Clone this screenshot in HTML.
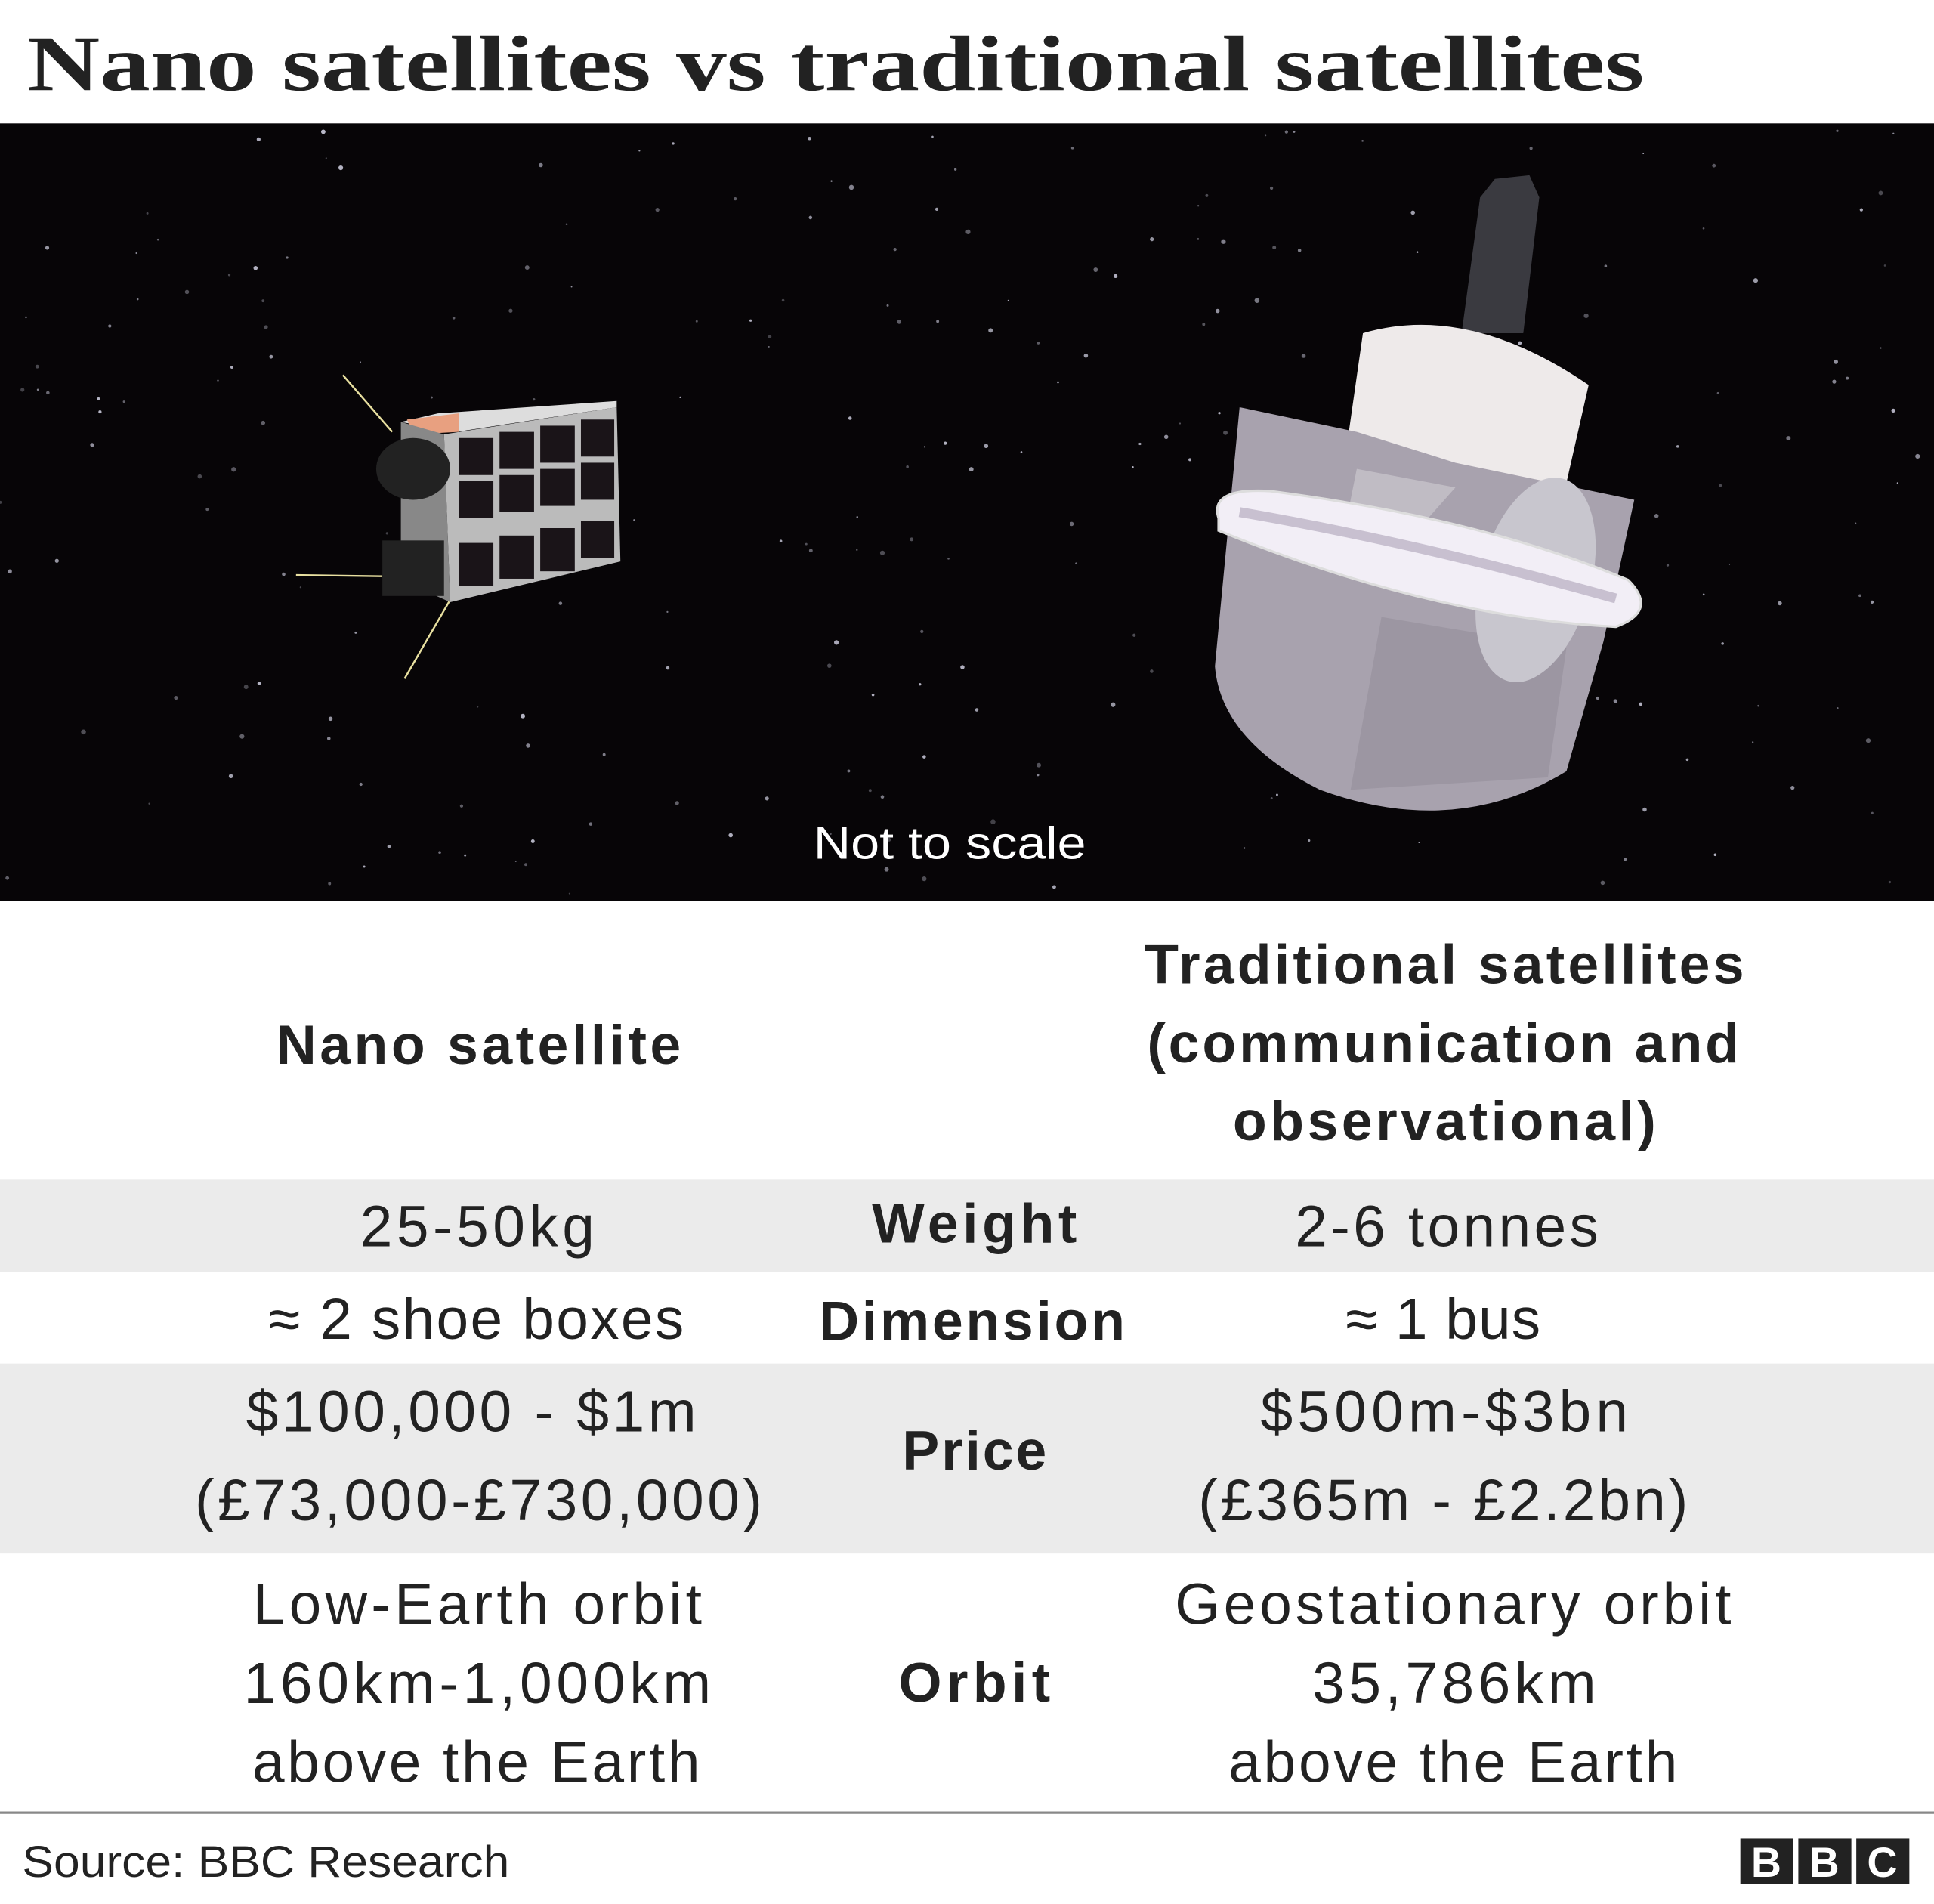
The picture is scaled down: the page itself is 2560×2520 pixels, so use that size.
<!DOCTYPE html>
<html><head><meta charset="utf-8"><style>
html,body{margin:0;padding:0;background:#fff;}
svg{display:block;}
</style></head><body>
<svg width="2560" height="2520" viewBox="0 0 1568 1543" preserveAspectRatio="none" xmlns="http://www.w3.org/2000/svg">
<rect width="1568" height="1543" fill="#fff"/>
<text x="22" y="73" font-family="Liberation Serif, serif" font-weight="bold" font-size="64" fill="#222" textLength="1311" lengthAdjust="spacingAndGlyphs">Nano satellites vs traditional satellites</text>
<g>
<rect x="0" y="100" width="1568" height="630" fill="#070507"/>
<g id="stars" fill="#ccd"></g>
<g>
<line x1="278" y1="304" x2="318" y2="350" stroke="#e8e0a0" stroke-width="1.5"/>
<line x1="240" y1="466" x2="310" y2="467" stroke="#e8e0a0" stroke-width="1.5"/>
<line x1="328" y1="550" x2="365" y2="486" stroke="#e8e0a0" stroke-width="1.5"/>
<polygon points="325,342 355,335 500,325 500,330 370,350" fill="#ddd"/>
<polygon points="330,340 372,335 372,350 335,352" fill="#e8a080"/>
<polygon points="360,352 500,330 503,455 365,488" fill="#bbb"/>
<g fill="#1a1418">
<rect x="372" y="355" width="28" height="30"/><rect x="405" y="350" width="28" height="30"/><rect x="438" y="345" width="28" height="30"/><rect x="471" y="340" width="27" height="30"/>
<rect x="372" y="390" width="28" height="30"/><rect x="405" y="385" width="28" height="30"/><rect x="438" y="380" width="28" height="30"/><rect x="471" y="375" width="27" height="30"/>
<rect x="372" y="440" width="28" height="35"/><rect x="405" y="434" width="28" height="35"/><rect x="438" y="428" width="28" height="35"/><rect x="471" y="422" width="27" height="30"/>
</g>
<polygon points="325,342 360,352 365,488 325,470" fill="#888"/>
<ellipse cx="335" cy="380" rx="30" ry="25" fill="#222"/>
<rect x="310" y="438" width="50" height="45" fill="#222"/>
</g>
<g>
<polygon points="1212,145 1240,142 1248,160 1235,270 1185,270 1200,160" fill="#3a3a40"/>
<path d="M1105,270 Q1190,245 1288,312 L1268,400 L1090,375 Z" fill="#eeeaea"/>
<path d="M1005,330 L1100,350 L1180,375 L1325,405 L1300,520 L1270,625 Q1180,680 1070,640 Q990,600 985,540 Z" fill="#a8a2ae"/>
<polygon points="1100,380 1180,395 1140,440 1090,430" fill="#c0bcc4"/>
<polygon points="1120,500 1270,525 1255,630 1095,640" fill="#9c96a2"/>
<ellipse cx="1245" cy="470" rx="45" ry="85" fill="#c8c6ce" transform="rotate(15 1245 470)"/>
<path d="M988,420 Q980,395 1030,398 Q1200,420 1320,470 Q1345,495 1310,508 Q1160,500 988,430 Z" fill="#f2eef6" stroke="#ddd" stroke-width="2"/>
<path d="M1005,415 Q1150,440 1310,485" stroke="#c8c0d0" stroke-width="8" fill="none"/>
</g>
<text x="770" y="696" text-anchor="middle" font-family="Liberation Sans, sans-serif" font-size="37" fill="#fff" textLength="221" lengthAdjust="spacingAndGlyphs">Not to scale</text>
</g>
<g font-family="Liberation Sans, sans-serif" fill="#222">
<rect x="0" y="956" width="1568" height="75" fill="#ebebeb"/>
<rect x="0" y="1105" width="1568" height="154" fill="#ebebeb"/>
<g font-weight="bold" font-size="45" text-anchor="middle" lengthAdjust="spacingAndGlyphs">
<text x="388" y="862" textLength="328">Nano satellite</text>
<text x="1171" y="797" textLength="486">Traditional satellites</text>
<text x="1170" y="861" textLength="480">(communication and</text>
<text x="1171" y="924" textLength="343">observational)</text>
<text x="790" y="1007" textLength="166">Weight</text>
<text x="788" y="1086" textLength="248">Dimension</text>
<text x="790" y="1191" textLength="117">Price</text>
<text x="790" y="1379" textLength="123">Orbit</text>
</g>
<g font-size="47" text-anchor="middle">
<text x="387" y="1010" textLength="190">25-50kg</text>
<text x="1173" y="1010" textLength="246">2-6 tonnes</text>
<text x="386" y="1085" textLength="337">≈ 2 shoe boxes</text>
<text x="1170" y="1085" textLength="158">≈ 1 bus</text>
<text x="382" y="1160" textLength="365">$100,000 - $1m</text>
<text x="388" y="1232" textLength="460">(£73,000-£730,000)</text>
<text x="1171" y="1160" textLength="298">$500m-$3bn</text>
<text x="1170" y="1232" textLength="397">(£365m - £2.2bn)</text>
<text x="387" y="1316" textLength="364">Low-Earth orbit</text>
<text x="387" y="1380" textLength="379">160km-1,000km</text>
<text x="386" y="1444" textLength="363">above the Earth</text>
<text x="1178" y="1316" textLength="451">Geostationary orbit</text>
<text x="1179" y="1380" textLength="230">35,786km</text>
<text x="1178" y="1444" textLength="364">above the Earth</text>
</g>
<line x1="0" y1="1469" x2="1568" y2="1469" stroke="#888" stroke-width="2"/>
<text x="18" y="1521" font-size="36" textLength="395" lengthAdjust="spacingAndGlyphs">Source: BBC Research</text>
</g>
<g font-family="Liberation Sans, sans-serif" font-weight="bold" font-size="34" fill="#fff" text-anchor="middle">
<rect x="1411" y="1490" width="43" height="37" fill="#222"/><text x="1432" y="1521">B</text>
<rect x="1458" y="1490" width="43" height="37" fill="#222"/><text x="1479" y="1521">B</text>
<rect x="1505" y="1490" width="43" height="37" fill="#222"/><text x="1526" y="1521">C</text>
</g>
<script>
var g=document.getElementById('stars');var s=7;
function r(){s=(s*9301+49297)%233280;return s/233280;}
for(var i=0;i<260;i++){var c=document.createElementNS('http://www.w3.org/2000/svg','circle');


c.setAttribute('cx',(r()*1568).toFixed(1));c.setAttribute('cy',(105+r()*620).toFixed(1));
c.setAttribute('r',(0.6+r()*1.4).toFixed(1));c.setAttribute('opacity',(0.3+r()*0.6).toFixed(2));g.appendChild(c);}
</script>
</svg>
</body></html>
